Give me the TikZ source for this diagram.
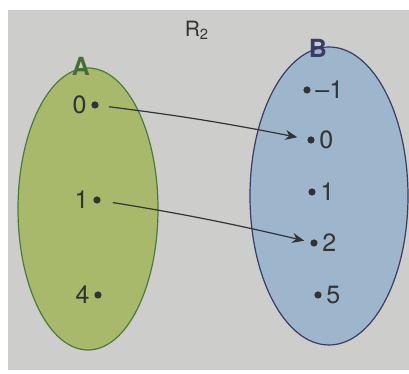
\documentclass[tikz,border=0pt]{standalone}
\usepackage{fontspec}
\setmainfont{TeX Gyre Heros}
\usetikzlibrary{arrows.meta, positioning, shapes.geometric}
\definecolor{paperbg}{HTML}{CDCDCB}
\definecolor{setAfill}{HTML}{A8B96B}
\definecolor{setAdraw}{HTML}{4C7A3A}
\definecolor{setBfill}{HTML}{9EB6CC}
\definecolor{setBdraw}{HTML}{3B3B68}
\definecolor{inkgray}{HTML}{333333}
\tikzset{
  setA/.style={ellipse, draw=setAdraw, fill=setAfill, semithick,
               minimum width=70pt, minimum height=141pt, inner sep=0pt},
  setB/.style={ellipse, draw=setBdraw, fill=setBfill, semithick,
               minimum width=79pt, minimum height=149pt, inner sep=0pt},
  elt/.style={circle, fill=inkgray, inner sep=0pt, minimum size=3.6pt},
  num/.style={font=\fontsize{12.5}{14}\selectfont, text=inkgray, inner sep=1pt},
  setname/.style={font=\fontsize{12.5}{14}\selectfont\bfseries, inner sep=0pt},
  mapsto/.style={-{Stealth[length=6pt, width=5pt]}, semithick, inkgray},
}
\begin{document}
\begin{tikzpicture}[x=0.5pt, y=0.5pt]
  \useasboundingbox (0,0) rectangle (409,374);
  \fill[paperbg] (8,4) rectangle (409,364);

  % the two sets
  \node[setA] (A) at (88,165) {};
  \node[setB] (B) at (329,178) {};
  \node[setname, text=setAdraw!90!black] (Aname) at (81,308) {A};
  \node[setname, text=setBdraw] (Bname) at (318,326) {B};
  \node[font=\fontsize{10.5}{12}\selectfont, text=inkgray] (rel) at (197,344) {R\textsubscript{2}};

  % elements of A
  \node[elt] (a0) at (95,269) {};
  \node[elt] (a1) at (97,174) {};
  \node[elt] (a4) at (98,79) {};
  \node[num, left=1pt of a0] {0};
  \node[num, left=1pt of a1] {1};
  \node[num, left=1pt of a4] {4};

  % elements of B
  \node[elt] (bm1) at (307,284) {};
  \node[elt] (b0)  at (311,234) {};
  \node[elt] (b1)  at (312,182) {};
  \node[elt] (b2)  at (314,131) {};
  \node[elt] (b5)  at (318,79) {};
  \node[num, right=1pt of bm1] {–1};
  \node[num, right=1pt of b0] {0};
  \node[num, right=1pt of b1] {1};
  \node[num, right=1pt of b2] {2};
  \node[num, right=1pt of b5] {5};

  \draw[mapsto, shorten <=5pt, shorten >=5pt] (a0) to[bend left=2] (b0);
  \draw[mapsto, shorten <=6pt, shorten >=3pt] (a1) to[bend left=2] (b2);
\end{tikzpicture}
\end{document}
